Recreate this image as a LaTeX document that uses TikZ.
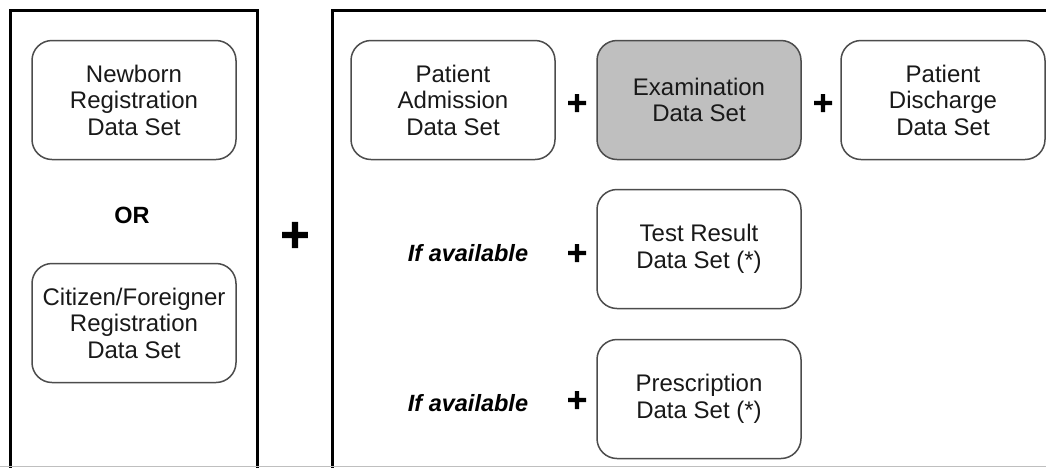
\documentclass[tikz,border=0pt]{standalone}
\usepackage{fontspec}
\setmainfont{Liberation Sans}
\newfontfamily\plusfont{DejaVu Sans Bold}[FakeBold=4]
\usetikzlibrary{arrows, shapes, calc}

\tikzset{
	dset/.style={draw=black!70, line width=1.5pt, rounded corners=20pt, minimum width=204pt, minimum height=119pt, align=center, text=black!90, font=\fontsize{24}{26.5}\selectfont},
	plussign/.style={font=\plusfont\fontsize{27}{27}\selectfont},
	ifavail/.style={font=\fontsize{23.5}{26.5}\selectfont\bfseries\itshape},
}

\begin{document}
\begin{tikzpicture}[x=1pt, y=-1pt, inner sep=0pt]
			\useasboundingbox (0,0) rectangle (1046,467);
			\clip (0,0) rectangle (1046,467);
			\fill[white] (0,0) rectangle (1046,467);
			
			\draw[line width=3pt] (10,480) -- (10,10) -- (257,10) -- (257,480);
			\draw[line width=3pt] (332,480) -- (332,10) -- (1060,10);
			\draw[black!25, line width=1pt] (0,466) -- (1046,466);
			
			\node[dset] (newborn) at (134,100) {Newborn\\Registration\\Data Set};
			\node[font=\fontsize{23.5}{26.5}\selectfont\bfseries] (or) at (132,215) {OR};
			\node[dset] (citizen) at (134,323) {Citizen/Foreigner\\Registration\\Data Set};
			
			\node[plussign, font=\plusfont\fontsize{39}{39}\selectfont] (bigplus) at (295,235) {+};
			
			\node[dset] (admission) at (453,100) {Patient\\Admission\\Data Set};
			\node[plussign] (plus1) at (577,103) {+};
			\node[dset, fill=black!25] (exam) at (699,100) {Examination\\Data Set};
			\node[plussign] (plus2) at (823,103) {+};
			\node[dset] (discharge) at (943,100) {Patient\\Discharge\\Data Set};
			
			\node[ifavail] (avail1) at (468,253) {If available};
			\node[plussign] (plus3) at (577,253) {+};
			\node[dset] (test) at (699,249) {Test Result\\Data Set (*)};
			
			\node[ifavail] (avail2) at (468,403) {If available};
			\node[plussign] (plus4) at (577,400) {+};
			\node[dset] (presc) at (699,399) {Prescription\\Data Set (*)};
		\end{tikzpicture}
\end{document}
